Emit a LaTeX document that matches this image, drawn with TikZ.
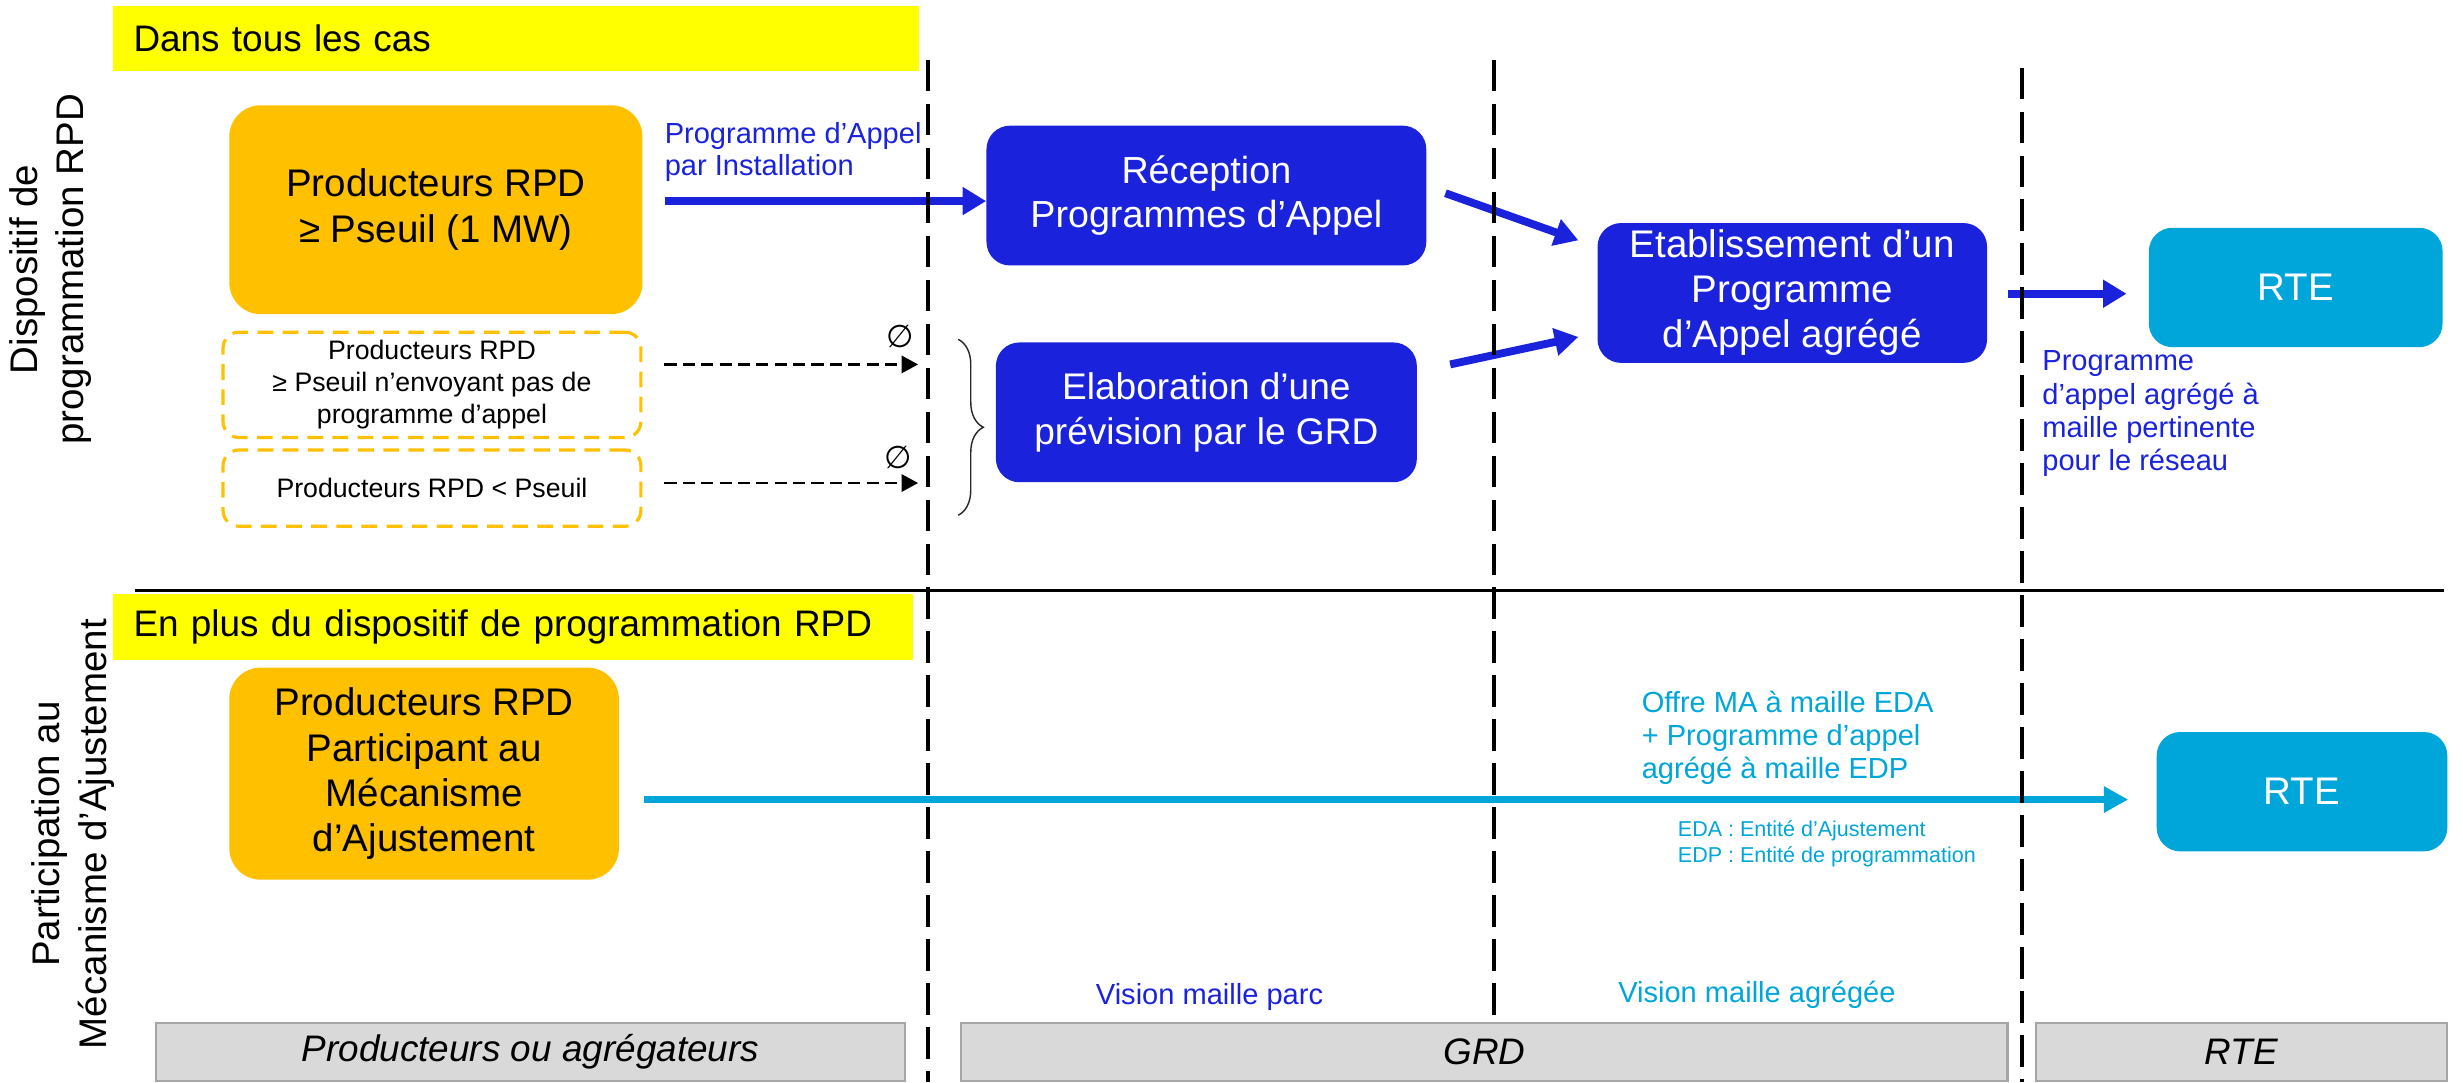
\documentclass[tikz,border=0pt]{standalone}
\usepackage{fontspec}
\setmainfont{Liberation Sans}
\newfontfamily\djv{DejaVu Sans}
\usetikzlibrary{arrows.meta,calc,decorations.pathreplacing}
\definecolor{orng}{RGB}{255,192,0}
\definecolor{bluD}{RGB}{26,35,219}
\definecolor{cyn}{RGB}{0,166,217}
\definecolor{ylw}{RGB}{255,255,0}
\definecolor{grayF}{RGB}{217,217,217}
\definecolor{grayB}{RGB}{166,166,166}
\newcommand\fsz[2]{\fontsize{#1}{#2}\selectfont}
\begin{document}
\begin{tikzpicture}[x=1pt,y=-1pt,
  ob/.style={fill=orng, rounded corners=20pt, align=center, inner sep=0pt, font=\fsz{24.5}{29}},
  db/.style={draw=orng, line width=2pt, dash pattern=on 10pt off 6pt, rounded corners=10pt, align=center, inner sep=0pt, font=\fsz{17}{20.5}},
  bb/.style={fill=bluD, text=white, rounded corners=15pt, align=center, inner sep=0pt, font=\fsz{24.5}{28.7}},
  cb/.style={fill=cyn, text=white, rounded corners=15pt, align=center, inner sep=0pt, font=\fsz{24.5}{29}},
  banner/.style={fill=ylw, inner xsep=13pt, inner ysep=0pt, align=left, font=\fsz{23.5}{28}},
  sidelab/.style={rotate=90, align=center, inner sep=0pt, font=\fsz{24.5}{29.5}},
  bar/.style={fill=grayF, draw=grayB, line width=1.3pt, inner sep=0pt, minimum height=37pt, font=\itshape\fsz{23.5}{28}},
  lblB/.style={text=bluD, align=left, inner sep=0pt, anchor=north west},
  lblC/.style={text=cyn, align=left, inner sep=0pt, anchor=north west},
  vdash/.style={line width=2.7pt, dash pattern=on 20pt off 8pt},
  barrow/.style={draw=bluD, line width=5pt, -{Triangle[length=15pt,width=17pt]}},
  carrow/.style={draw=cyn, line width=4.7pt, -{Triangle[length=15.5pt,width=16pt]}},
  karrow/.style={draw=black, line width=1.4pt, dash pattern=on 7.7pt off 4pt, -{Triangle[length=10.5pt,width=11pt]}},
  phi/.style={inner sep=0pt, font=\djv\fsz{20}{22}},
]
\useasboundingbox (0,0) rectangle (1568,689);

% side labels
\node[sidelab] (side1) at (32,171.5) {Dispositif de\\programmation RPD};
\node[sidelab] (side2) at (46.5,531) {Participation au\\Mécanisme d’Ajustement};

% banners
\node[banner, text width=487pt, minimum height=41pt] (ban1) at (328.5,24.5) {Dans tous les cas};
\node[banner, text width=483pt, minimum height=42pt] (ban2) at (326.5,399) {En plus du dispositif de programmation RPD};

% producer boxes
\node[ob, minimum width=263pt, minimum height=133pt] (ob1) at (277.5,133.5) {Producteurs RPD\\≥ Pseuil (1 MW)};
\node[db, minimum width=266pt, minimum height=67pt] (db2) at (275,245) {Producteurs RPD\\≥ Pseuil n’envoyant pas de\\programme d’appel};
\node[db, minimum width=266pt, minimum height=48.5pt] (db3) at (275,310.75) {Producteurs RPD < Pseuil};
\node[ob, font=\fsz{24.5}{28.7}, minimum width=248pt, minimum height=135pt] (ob4) at (270,492.5) {Producteurs RPD\\Participant au\\Mécanisme\\d’Ajustement};

% GRD boxes
\node[bb, font=\fsz{24}{27.5}, minimum width=280pt, minimum height=89pt] (rec) at (768,124.5) {Réception\\Programmes d’Appel};
\node[bb, font=\fsz{23.6}{28.5}, minimum width=268pt, minimum height=89pt] (elab) at (768,262.5) {Elaboration d’une\\prévision par le GRD};
\node[bb, minimum width=248pt, minimum height=89pt] (etab) at (1141,186.5) {Etablissement d’un\\Programme\\d’Appel agrégé};

% RTE boxes
\node[cb, minimum width=187pt, minimum height=76pt] (rte1) at (1461.5,183) {RTE};
\node[cb, minimum width=185pt, minimum height=76pt] (rte2) at (1465.5,504) {RTE};

% labels
\node[lblB, font=\fsz{18.5}{20}] (lab1) at (423,78) {Programme d’Appel\\par Installation};
\node[lblB, font=\fsz{18.5}{21.3}] (lab2) at (1300,223) {Programme\\d’appel agrégé à\\maille pertinente\\pour le réseau};
\node[lblC, font=\fsz{18.5}{21}] (lab3) at (1045,440) {Offre MA à maille EDA\\+ Programme d’appel\\agrégé à maille EDP};
\node[lblC, font=\fsz{13.7}{16.5}] (lab4) at (1068,522.5) {EDA : Entité d’Ajustement\\EDP : Entité de programmation};
\node[text=bluD, inner sep=0pt, font=\fsz{18.5}{21}] (vis1) at (770,635) {Vision maille parc};
\node[text=cyn, inner sep=0pt, font=\fsz{18.5}{21}] (vis2) at (1118.5,633.5) {Vision maille agrégée};

% vertical separators (coordinates)
\coordinate (v1t) at (591,38);   \coordinate (v1b) at (591,689);
\coordinate (v2t) at (951,38);   \coordinate (v2b) at (951,648);
\coordinate (v3t) at (1287,43);  \coordinate (v3b) at (1287,689);
\coordinate (hl) at (86,376);    \coordinate (hr) at (1556,376);

% empty-set marks
\node[phi] (phi1) at (573,214) {∅};
\node[phi] (phi2) at (572,291) {∅};

% arrows
\draw[barrow] ($(ob1.east)+(14,-5.5)$) -- ($(rec.west)+(0,3.5)$);
\draw[karrow] ($(db2.east)+(14,-13)$) -- ($(db2.east -| v1t)+(-6.5,-13)$);
\draw[karrow] ($(db3.east)+(14,-3.25)$) -- ($(db3.east -| v1t)+(-6.5,-3.25)$);
\draw[barrow] ($(rec.east)+(12,-1.5)$) -- ($(etab.west)+(-12,-33.5)$);
\draw[barrow] ($(elab.east)+(21,-30.5)$) -- ($(etab.west)+(-12,28)$);
\draw[barrow] ($(etab.east)+(13,0.5)$) -- ($(rte1.west)+(-14,4)$);
\draw[carrow] ($(ob4.east)+(16,16.5)$) -- ($(rte2.west)+(-18,5)$);

% brace
\draw[decorate, decoration={brace, amplitude=16pt}, line width=0.9pt, draw=black!85] (610,216) -- (610,328);

% separators
\draw[line width=2pt] (hl) -- (hr);
\draw[vdash] (v1t) -- (v1b);
\draw[vdash] (v2t) -- (v2b);
\draw[vdash] (v3t) -- (v3b);

% bottom bars
\node[bar, minimum width=476.5pt] (bar1) at (337.75,669.5) {Producteurs ou agrégateurs};
\node[bar, minimum width=666pt] (bar2) at (945,669.5) {GRD};
\node[bar, minimum width=262pt] (bar3) at (1427,669.5) {RTE};
\end{tikzpicture}
\end{document}
